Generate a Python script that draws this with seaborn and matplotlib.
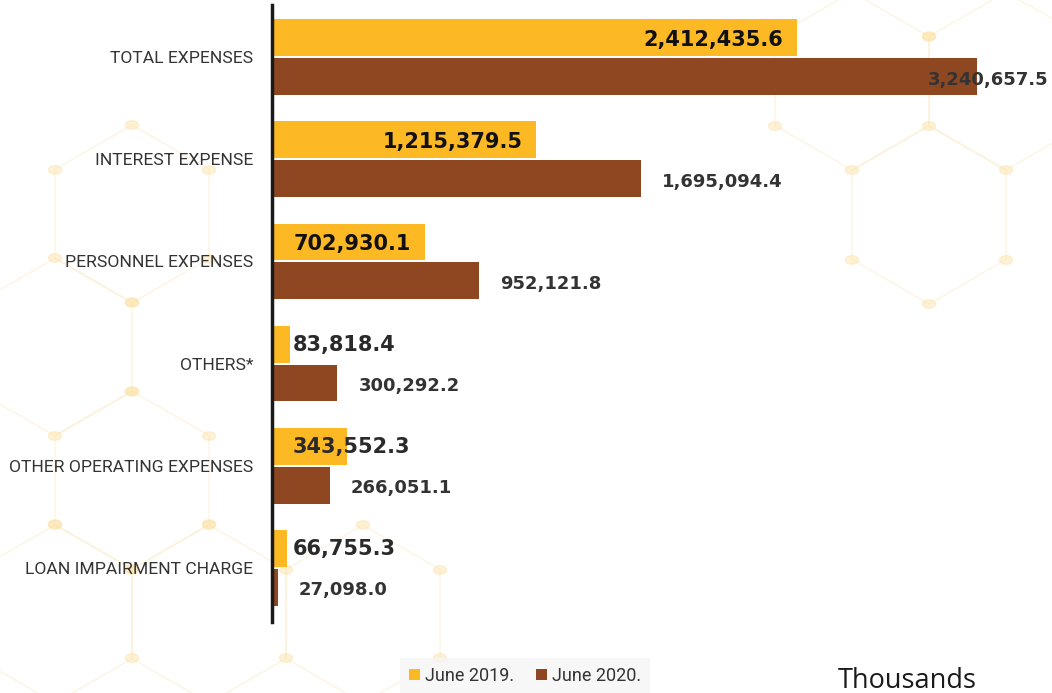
import matplotlib
matplotlib.use("Agg")
import matplotlib.pyplot as plt
import seaborn as sns
import pandas as pd
import numpy as np
from matplotlib.patches import Patch, Circle
from matplotlib.lines import Line2D

# ---- data ----
categories = ["TOTAL EXPENSES", "INTEREST EXPENSE", "PERSONNEL EXPENSES",
              "OTHERS*", "OTHER OPERATING EXPENSES", "LOAN IMPAIRMENT CHARGE"]
june_2019 = [2412435.6, 1215379.5, 702930.1, 83818.4, 343552.3, 66755.3]
june_2020 = [3240657.5, 1695094.4, 952121.8, 300292.2, 266051.1, 27098.0]
series = ["June 2019.", "June 2020."]
colors = ["#FDB924", "#8E4720"]
unit_label = "Thousands"

sns.set_theme(style="white")
COND = ["Roboto", "DejaVu Sans"]
plt.rcParams["font.family"] = ["DejaVu Sans"]

df = pd.DataFrame({
    "category": categories * 2,
    "value": june_2019 + june_2020,
    "period": [series[0]] * len(categories) + [series[1]] * len(categories),
})

W, H = 1052, 693
fig = plt.figure(figsize=(W / 100, H / 100), dpi=100)
fig.patch.set_facecolor("white")

# ---- faint decorative hexagon pattern in the background ----
def fx(x):
    return x / W
def fy(y):
    return 1 - y / H
R = 89.0
hex_centers = [(132, 480), (209, 614), (55, 614), (363, 614), (55, 347),
               (132, 214), (852, 81), (929, 215), (1006, 81)]
dots = set()
for cx, cy in hex_centers:
    angs = np.deg2rad(np.arange(90, 451, 60))
    xs = cx + R * np.cos(angs)
    ys = cy - R * np.sin(angs)
    fig.add_artist(Line2D([fx(v) for v in xs], [fy(v) for v in ys],
                          color="#FBE9C2", lw=1.0, alpha=0.45, zorder=0))
    for xv, yv in zip(xs[:-1], ys[:-1]):
        dots.add((round(xv), round(yv)))
for xv, yv in dots:
    fig.add_artist(Circle((fx(xv), fy(yv)), 6.5 / W, color="#FCE2A6",
                          alpha=0.45, zorder=0, transform=fig.transFigure))

ax = fig.add_axes([272 / W, 1 - 622 / H, 1 - 272 / W, 617 / H])
ax.patch.set_alpha(0)

sns.barplot(data=df, y="category", x="value", hue="period", orient="h",
            palette=colors, width=0.76, gap=0.05, saturation=1,
            linewidth=0, legend=False, ax=ax)

xmax = 3.586e6
ax.set_xlim(0, xmax)
ax.set_ylim(5.53, -0.51)
for s in ["top", "right", "bottom"]:
    ax.spines[s].set_visible(False)
ax.spines["left"].set_linewidth(2.5)
ax.spines["left"].set_color("#1a1a1a")
ax.set_xticks([])
ax.set_xlabel("")
ax.set_ylabel("")
ax.tick_params(axis="y", length=0, pad=13.5)
for t in ax.get_yticklabels():
    t.set_family(COND)
    t.set_fontsize(12.6)
    t.set_color("#333333")

# value labels
c19, c20 = ax.containers[0], ax.containers[1]
for bar, v in zip(c19, june_2019):
    yc = bar.get_y() + bar.get_height() / 2
    txt = f"{v:,.1f}"
    if v > 500000:
        ax.annotate(txt, (v, yc), xytext=(-14, -2), textcoords="offset pixels",
                    ha="right", va="center", fontsize=15, fontweight="bold",
                    color="#111111")
    else:
        ax.annotate(txt, (0, yc), xytext=(21, -1), textcoords="offset pixels",
                    ha="left", va="center", fontsize=15, fontweight="bold",
                    color="#2a2a2a")
for bar, v in zip(c20, june_2020):
    yc = bar.get_y() + bar.get_height() / 2
    txt = f"{v:,.1f}"
    if v > 0.8 * xmax:
        ax.annotate(txt, (xmax, yc), xytext=(-4, -3), textcoords="offset pixels",
                    ha="right", va="center", fontsize=13, fontweight="bold",
                    color="#333333")
    else:
        ax.annotate(txt, (v, yc), xytext=(21, -3), textcoords="offset pixels",
                    ha="left", va="center", fontsize=13, fontweight="bold",
                    color="#333333")

handles = [Patch(facecolor=c, edgecolor="none") for c in colors]
leg = fig.legend(handles, series, loc="center", bbox_to_anchor=(525 / W, 1 - 676 / H),
                 ncol=2, frameon=True, fancybox=False, handlelength=0.6,
                 handleheight=0.6, handletextpad=0.3, columnspacing=1.2,
                 prop={"family": COND, "size": 13}, borderpad=0.5)
leg.get_frame().set_facecolor("#f6f6f6")
leg.get_frame().set_edgecolor("none")
for t in leg.get_texts():
    t.set_color("#333333")

fig.text(838 / W, 1 - 681 / H, unit_label, fontsize=19.5, family=["Open Sans", "DejaVu Sans"],
         va="center", ha="left", color="#1a1a1a")

fig.savefig("out.png", dpi=100)
